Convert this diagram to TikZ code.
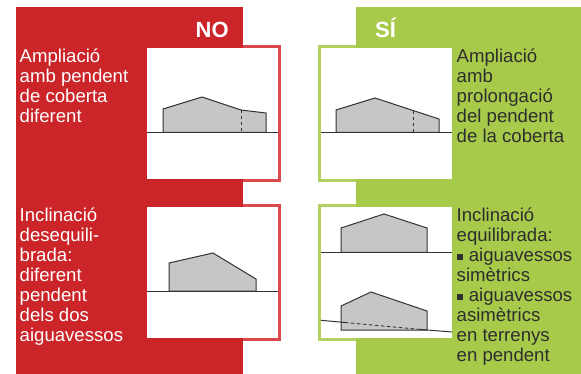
\documentclass[tikz,border=0pt]{standalone}
\usepackage{fontspec}
\setmainfont{Liberation Sans}
\tikzset{
  panelno/.style={fill=nored,draw=none},
  panelsi/.style={fill=sigreen,draw=none},
  paper/.style={fill=white,draw=none},
  edgeno/.style={draw=noedge,line width=2.5pt},
  edgesi/.style={draw=siedge,line width=2.5pt},
  house/.style={fill=housegrey,draw=linedark,line width=1pt,line join=miter},
  ground/.style={draw=linedark,line width=1pt},
  hidden/.style={draw=linedark,line width=0.9pt,dash pattern=on 3.5pt off 2.5pt},
  whitetext/.style={text=white,font=\fontsize{18.6}{20}\selectfont,align=left,inner sep=0pt,anchor=north west},
  darktext/.style={text=textdark,font=\fontsize{18.6}{20}\selectfont,align=left,inner sep=0pt,anchor=north west},
  heading/.style={text=white,font=\fontsize{22}{24}\selectfont\bfseries,inner sep=0pt,anchor=base west},
}
\definecolor{nored}{HTML}{CB2529}
\definecolor{noedge}{HTML}{D9494D}
\definecolor{sigreen}{HTML}{A8CA4B}
\definecolor{siedge}{HTML}{B2D160}
\definecolor{housegrey}{HTML}{C6C6C8}
\definecolor{linedark}{HTML}{333333}
\definecolor{textdark}{HTML}{2E2E2E}
\newcommand{\sqbullet}{\rule[1.4pt]{6.4pt}{6.4pt}\hspace{5.8pt}}
\begin{document}
\begin{tikzpicture}[x=1pt,y=-1pt]
\useasboundingbox (0,0) rectangle (581,374);
\fill[white] (0,0) rectangle (581,374);
% panels
\path[panelno] (16,7) rectangle (243,374);
\path[panelsi] (356,7) rectangle (581,374);
% frames
\draw[edgeno] (243,46.7) -- (279.3,46.7) -- (279.3,180.3) -- (243,180.3);
\draw[edgeno] (243,205.7) -- (279.3,205.7) -- (279.3,339.3) -- (243,339.3);
\draw[edgesi] (356,46.7) -- (319.3,46.7) -- (319.3,180.3) -- (356,180.3);
\draw[edgesi] (356,205.7) -- (319.3,205.7) -- (319.3,339.3) -- (356,339.3);
\path[paper] (147,48) rectangle (278,179);
\path[paper] (147,207) rectangle (278,338);
\path[paper] (321,48) rectangle (452,179);
\path[paper] (321,207) rectangle (452,338);
% headings
\node[heading] (no) at (195.5,38) {NO};
\node[heading] (si) at (375,38) {SÍ};
% upper left drawing
\draw[house] (163,132.3) -- (163,109) -- (202,97) -- (241,110) -- (266,113) -- (266,132.3) -- cycle;
\draw[hidden] (241,110) -- (241,132.3);
\draw[ground] (147,132.3) -- (278,132.3);
% upper right drawing
\draw[house] (336,132.3) -- (336,110) -- (375,98) -- (439,119) -- (439,132.3) -- cycle;
\draw[hidden] (413.5,111) -- (413.5,132.3);
\draw[ground] (321,132.3) -- (452,132.3);
% lower left drawing
\draw[house] (169,291) -- (169,263) -- (213,253) -- (256,279) -- (256,291) -- cycle;
\draw[ground] (147,291) -- (278,291);
% lower right, upper drawing
\draw[house] (341,252.3) -- (341,228) -- (384,214) -- (427,228) -- (427,252.3) -- cycle;
\draw[ground] (321,252.3) -- (452,252.3);
% lower right, lower drawing
\draw[house] (341,330) -- (341,306) -- (371,292) -- (427,311) -- (427,330) -- cycle;
\draw[ground] (321,320.3) -- (345,322.5);
\draw[hidden] (345,322.5) -- (420,329.4);
\draw[ground] (420,329.4) -- (452,332);
% texts
\node[whitetext] (t1) at (19.5,48.8) {Ampliació\\amb pendent\\de coberta\\diferent};
\node[whitetext] (t2) at (19.5,207.8) {Inclinació\\desequili-\\brada:\\diferent\\pendent\\dels dos\\aiguavessos};
\node[darktext] (t3) at (456.5,48.8) {Ampliació\\amb\\prolongació\\del pendent\\de la coberta};
\node[darktext] (t4) at (456.5,207.8) {Inclinació\\equilibrada:\\\sqbullet aiguavessos\\simètrics\\\sqbullet aiguavessos\\asimètrics\\en terrenys\\en pendent};
\end{tikzpicture}
\end{document}
